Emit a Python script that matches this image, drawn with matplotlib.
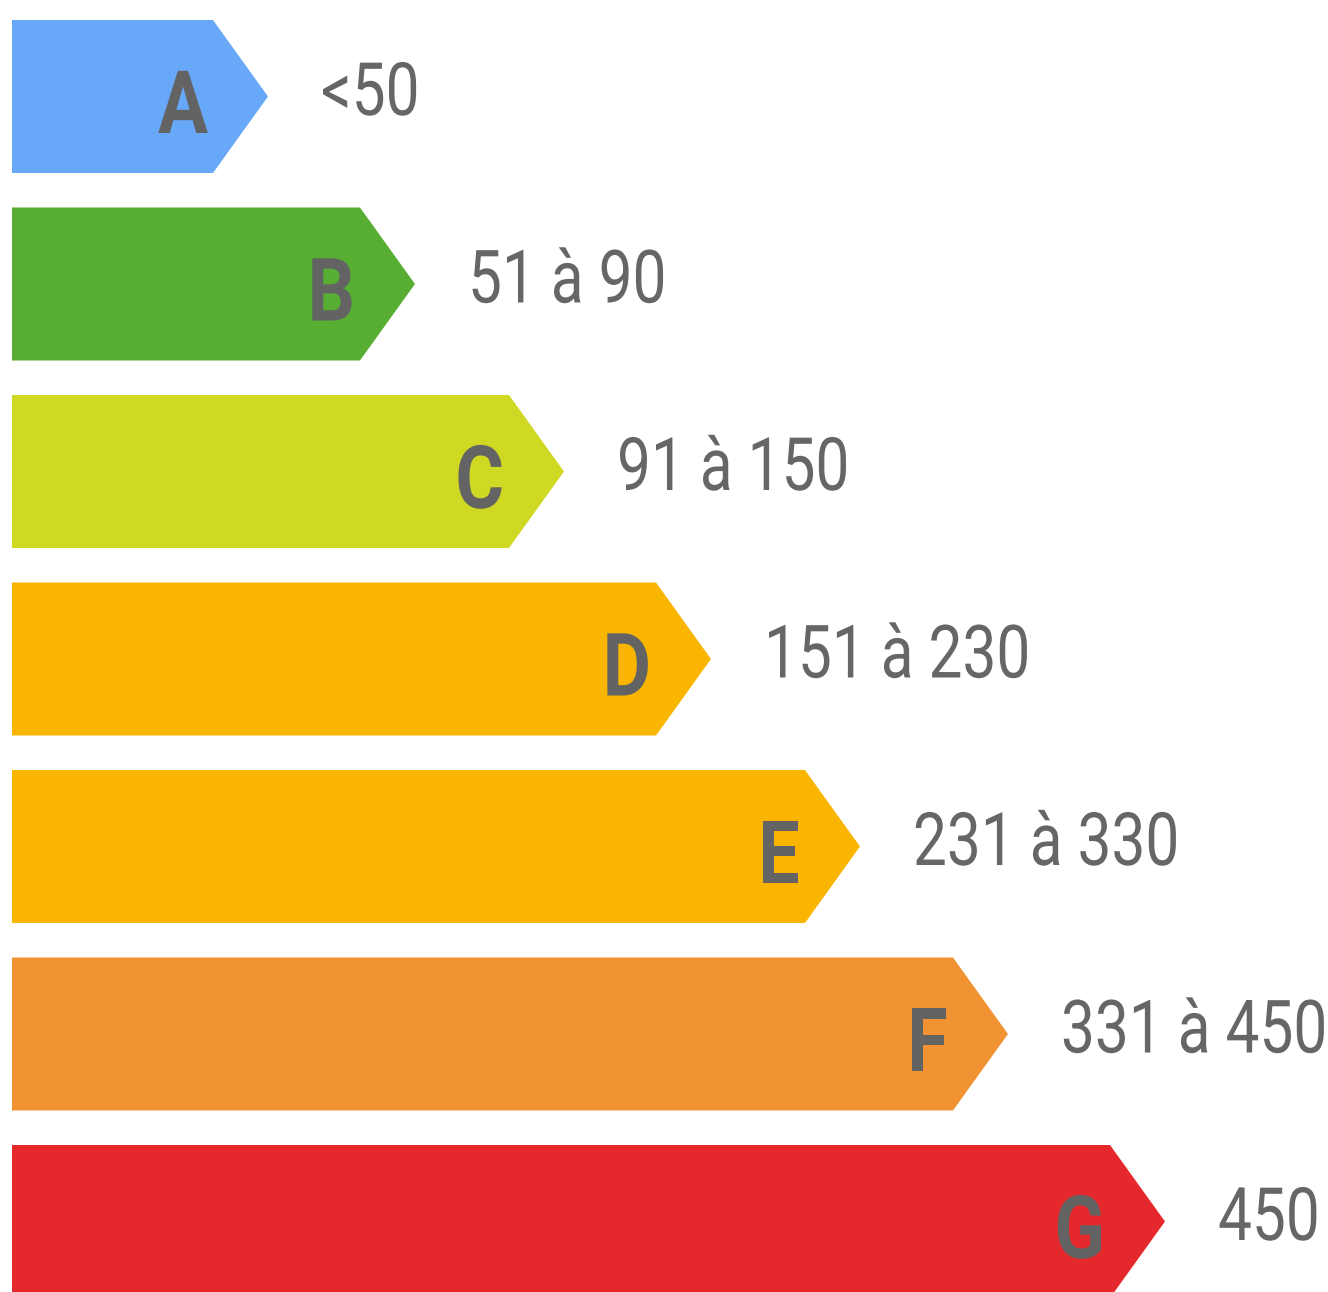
import matplotlib
matplotlib.use("Agg")
import matplotlib.pyplot as plt
from matplotlib.patches import Polygon
from matplotlib.patheffects import AbstractPathEffect
from matplotlib.transforms import Affine2D

classes = ["A", "B", "C", "D", "E", "F", "G"]
ranges = ["<50", "51 à 90", "91 à 150", "151 à 230", "231 à 330", "331 à 450", "450"]
bar_lengths = [201, 348, 497, 644, 793, 941, 1098]
colors = ["#68A8F8", "#57AE33", "#CFD822", "#F9B500", "#F9B500", "#F19233", "#E5282C"]

W, H = 1328, 1292
fig = plt.figure(figsize=(W / 100, H / 100), dpi=100)
ax = fig.add_axes([0, 0, 1, 1])
ax.set_xlim(0, W)
ax.set_ylim(H, 0)
ax.axis("off")


class Condense(AbstractPathEffect):
    """Squeeze glyphs horizontally around the text anchor (real text kept)."""

    def __init__(self, sx, x, y):
        super().__init__()
        self.sx = sx
        self.x = x
        self.y = y

    def draw_path(self, renderer, gc, tpath, affine, rgbFace=None):
        x0 = ax.transData.transform((self.x, self.y))[0]
        t = affine + Affine2D().translate(-x0, 0).scale(self.sx, 1).translate(x0, 0)
        renderer.draw_path(gc, tpath, t, rgbFace)


x0 = 12
top0 = 20
pitch = 187.5
bh = 153
tip = 55

for i, (c, r, L, col) in enumerate(zip(classes, ranges, bar_lengths, colors)):
    t = top0 + i * pitch
    xe = x0 + L
    poly = Polygon([(x0, t), (xe, t), (xe + tip, t + bh / 2), (xe, t + bh), (x0, t + bh)],
                   closed=True, facecolor=col, edgecolor="none")
    ax.add_patch(poly)
    lx, ly = xe - 5, t + 113
    ax.text(lx, ly, c, ha="right", va="baseline", fontsize=63,
            family=["Roboto", "DejaVu Sans"], fontweight="bold", color="#636363",
            path_effects=[Condense(0.85, lx, ly)])
    rx, ry = xe + tip + 53, t + 95
    ax.text(rx, ry, r, ha="left", va="baseline", fontsize=53,
            family=["Roboto", "DejaVu Sans"], fontweight="normal", color="#666666",
            path_effects=[Condense(0.82, rx, ry)])

fig.savefig("out.png", dpi=100)
